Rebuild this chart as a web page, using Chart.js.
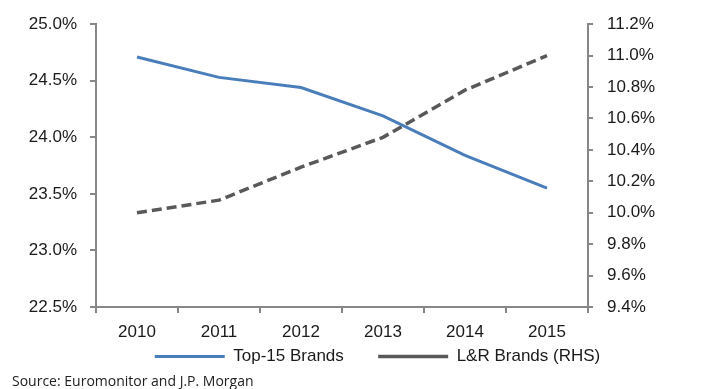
<!DOCTYPE html>
<html>
<head>
<meta charset="utf-8">
<script src="https://cdn.jsdelivr.net/npm/chart.js@4/dist/chart.umd.min.js"></script>
<style>
    html, body { margin: 0; padding: 0; background: #fff; }
    #chart { display: block; }
</style>
</head>
<body>
<canvas id="chart" width="711" height="389"></canvas>
<script>
// Data
const years = ['2010', '2011', '2012', '2013', '2014', '2015'];
const top15Share = [24.71, 24.53, 24.44, 24.19, 23.84, 23.55];   // left axis
const lrShare = [10.0, 10.08, 10.29, 10.48, 10.78, 11.0];         // right axis (RHS)
const leftTicks = [22.5, 23.0, 23.5, 24.0, 24.5, 25.0];
const rightTicks = [9.4, 9.6, 9.8, 10.0, 10.2, 10.4, 10.6, 10.8, 11.0, 11.2];
const seriesNames = ['Top-15 Brands', 'L&R Brands (RHS)'];
const sourceText = 'Source: Euromonitor and J.P. Morgan';

const AXIS_GREY = '#878787';
const TEXT = '#1a1a1a';
const FONT = "Arial, 'Liberation Sans', sans-serif";

function fixedTicks(values) {
    return function(scale) {
        scale.ticks = values.map(v => ({ value: v }));
    };
}

// Source line under the legend
const sourceNote = {
    id: 'sourceNote',
    afterDraw(chart) {
        const ctx = chart.ctx;
        ctx.save();
        ctx.font = "14px 'Open Sans', sans-serif";
        ctx.fillStyle = '#222';
        ctx.textBaseline = 'middle';
        ctx.textAlign = 'left';
        ctx.fillText(sourceText, 12, 382);
        ctx.restore();
    }
};

const ctx = document.getElementById('chart').getContext('2d');

new Chart(ctx, {
    type: 'line',
    data: {
        labels: years,
        datasets: [
            {
                label: seriesNames[0],
                data: top15Share,
                yAxisID: 'yLeft',
                borderColor: '#4a7ebb',
                backgroundColor: '#4a7ebb',
                borderWidth: 3,
                pointRadius: 0,
                pointStyle: 'line',
                tension: 0
            },
            {
                label: seriesNames[1],
                data: lrShare,
                yAxisID: 'yRight',
                borderColor: '#595959',
                backgroundColor: '#595959',
                borderWidth: 3.5,
                borderDash: [10, 5],
                pointRadius: 0,
                pointStyle: 'line',
                tension: 0
            }
        ]
    },
    options: {
        responsive: false,
        animation: false,
        layout: {
            // right padding is negative to push the centred legend a bit right
            padding: { left: 20, right: -24, top: 24, bottom: 14 }
        },
        plugins: {
            legend: {
                position: 'bottom',
                labels: {
                    usePointStyle: true,
                    pointStyleWidth: 70,
                    padding: 6,
                    color: TEXT,
                    font: { family: FONT, size: 17 },
                    generateLabels: function(chart) {
                        const items = Chart.defaults.plugins.legend.labels.generateLabels(chart);
                        // wider gap after the first entry
                        items[0].text = items[0].text + '      ';
                        return items;
                    }
                }
            },
            tooltip: { enabled: false }
        },
        scales: {
            x: {
                offset: true,
                grid: {
                    offset: true,
                    drawOnChartArea: false,
                    color: AXIS_GREY,
                    lineWidth: 2,
                    tickLength: 6
                },
                border: { color: AXIS_GREY, width: 2 },
                ticks: {
                    color: TEXT,
                    padding: 9,
                    font: { family: FONT, size: 17 },
                    maxRotation: 0
                },
                afterFit: function(scale) { scale.height = 35; }
            },
            yLeft: {
                position: 'left',
                min: 22.5,
                max: 25.0,
                grid: {
                    drawOnChartArea: false,
                    color: AXIS_GREY,
                    lineWidth: 2,
                    tickLength: 6
                },
                border: { color: AXIS_GREY, width: 2 },
                ticks: {
                    color: TEXT,
                    padding: 13,
                    font: { family: FONT, size: 17 },
                    callback: v => v.toFixed(1) + '%'
                },
                afterBuildTicks: fixedTicks(leftTicks),
                afterFit: function(scale) { scale.width = 76; }
            },
            yRight: {
                position: 'right',
                min: 9.4,
                max: 11.2,
                grid: {
                    drawOnChartArea: false,
                    color: AXIS_GREY,
                    lineWidth: 2,
                    tickLength: 5
                },
                border: { color: AXIS_GREY, width: 2 },
                ticks: {
                    color: TEXT,
                    padding: 14,
                    font: { family: FONT, size: 17 },
                    callback: v => v.toFixed(1) + '%'
                },
                afterBuildTicks: fixedTicks(rightTicks),
                afterFit: function(scale) { scale.width = 147; }
            }
        }
    },
    plugins: [sourceNote]
});
</script>
</body>
</html>
